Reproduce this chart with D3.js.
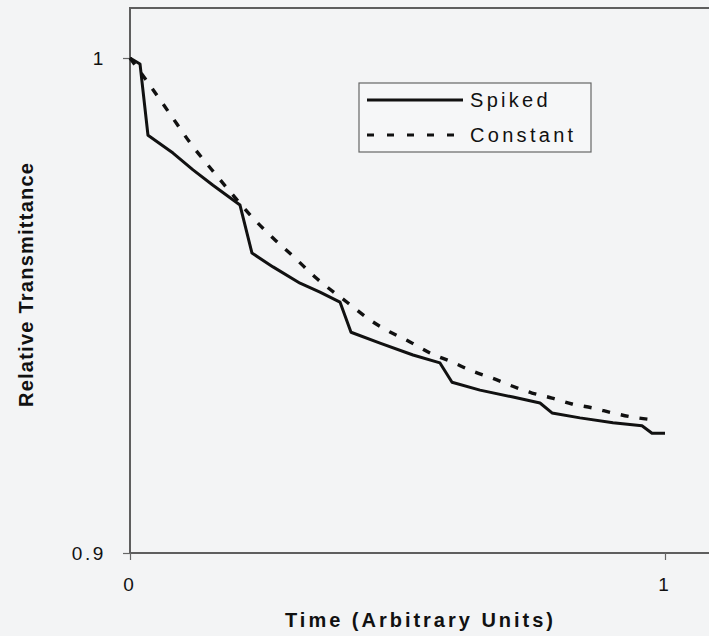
<!DOCTYPE html>
<html>
<head>
<meta charset="utf-8">
<script src="https://cdn.jsdelivr.net/npm/d3@7"></script>
<style>
  html, body { margin: 0; padding: 0; background: #f3f4f5; }
  svg { display: block; }
  text { font-family: "Liberation Sans", Arial, Helvetica, sans-serif; fill: #111; }
</style>
</head>
<body>
<svg id="chart" width="709" height="636"></svg>
<script>
// ---- data ----
const spikedX = [0, 0.0187, 0.0336, 0.0804, 0.1178, 0.1551, 0.2056, 0.2280, 0.2673, 0.3178, 0.3551, 0.3925,
                 0.4131, 0.4673, 0.5290, 0.5794, 0.6019, 0.6542, 0.7159, 0.7664, 0.7888, 0.8411, 0.9028, 0.9570, 0.9757, 1.0];
const spikedY = [1.0, 0.9988, 0.9844, 0.9808, 0.9774, 0.9743, 0.9703, 0.9606, 0.9578, 0.9545, 0.9527, 0.9507,
                 0.9446, 0.9424, 0.9400, 0.9384, 0.9345, 0.9329, 0.9315, 0.9303, 0.9283, 0.9273, 0.9263, 0.9257, 0.9242, 0.9242];
const constantX = [0, 0.0355, 0.0748, 0.1140, 0.1533, 0.1907, 0.2280, 0.2673, 0.3084, 0.3458, 0.4075, 0.4486, 0.4860,
                   0.5234, 0.5607, 0.6019, 0.6393, 0.6766, 0.7140, 0.7514, 0.7888, 0.8262, 0.8654, 0.9028, 0.9383, 0.9813];
const constantY = [1.0, 0.99475, 0.98869, 0.98263, 0.97737, 0.97253, 0.96788, 0.96364, 0.95960, 0.95576, 0.95051, 0.94707, 0.94465,
                   0.94263, 0.94040, 0.93859, 0.93677, 0.93535, 0.93374, 0.93232, 0.93131, 0.93010, 0.92929, 0.92828, 0.92747, 0.92687];
const seriesNames = ["Spiked", "Constant"];
const xTicks = [0, 1];
const yTicks = [0.9, 1];
const xTitle = "Time (Arbitrary Units)";
const yTitle = "Relative Transmittance";

// ---- layout ----
const svg = d3.select("#chart");
const x = d3.scaleLinear().domain([0, 1]).range([130, 665]);
const y = d3.scaleLinear().domain([0.9, 1.0]).range([553, 58]);
const frameTop = y(1.0101);

// frame (plot box, right side runs off the page)
svg.append("rect")
  .attr("x", x(0)).attr("y", frameTop)
  .attr("width", 720 - x(0)).attr("height", y(0.9) - frameTop)
  .attr("fill", "none").attr("stroke", "#5e5e5e").attr("stroke-width", 2);

// axes
const yAxis = d3.axisLeft(y).tickValues(yTicks).tickSize(7).tickPadding(17)
  .tickFormat(d => d === 1 ? "1" : d3.format(".1f")(d));
const gy = svg.append("g").attr("transform", `translate(${x(0)},0)`).call(yAxis);
gy.select(".domain").remove();
gy.selectAll("line").attr("stroke", "#666").attr("stroke-width", 1.2);
gy.selectAll("text").attr("font-size", 19).style("letter-spacing", "2.6px")
  .attr("font-family", "Liberation Sans, Arial, sans-serif").attr("fill", "#111");

const xAxis = d3.axisBottom(x).tickValues(xTicks).tickSize(7).tickPadding(18).tickFormat(d3.format("d"));
const gx = svg.append("g").attr("transform", `translate(0,${y(0.9)})`).call(xAxis);
gx.select(".domain").remove();
gx.selectAll("line").attr("stroke", "#666").attr("stroke-width", 1.2);
gx.selectAll("text").attr("font-size", 19).attr("dx", "-2")
  .attr("font-family", "Liberation Sans, Arial, sans-serif").attr("fill", "#111");

// lines
const line = d3.line().x(d => x(d[0])).y(d => y(d[1]));
const spiked = spikedX.map((v, i) => [v, spikedY[i]]);
const constant = constantX.map((v, i) => [v, constantY[i]]);

svg.append("path").datum(constant)
  .attr("d", line.curve(d3.curveMonotoneX))
  .attr("fill", "none").attr("stroke", "#111").attr("stroke-width", 3.4)
  .attr("stroke-dasharray", "8,11");

svg.append("path").datum(spiked)
  .attr("d", line.curve(d3.curveLinear))
  .attr("fill", "none").attr("stroke", "#111").attr("stroke-width", 3)
  .attr("stroke-linejoin", "round");

// legend
const lg = svg.append("g");
lg.append("rect").attr("x", 359).attr("y", 83).attr("width", 232).attr("height", 69)
  .attr("fill", "#f6f7f8").attr("stroke", "#666").attr("stroke-width", 1.2);
lg.append("line").attr("x1", 367).attr("x2", 463).attr("y1", 100).attr("y2", 100)
  .attr("stroke", "#111").attr("stroke-width", 3);
lg.append("line").attr("x1", 367).attr("x2", 456).attr("y1", 135).attr("y2", 135)
  .attr("stroke", "#111").attr("stroke-width", 3).attr("stroke-dasharray", "7,13");
lg.append("text").attr("x", 470).attr("y", 107).attr("font-size", 20)
  .style("letter-spacing", "3.3px").text(seriesNames[0]);
lg.append("text").attr("x", 470).attr("y", 142).attr("font-size", 20)
  .style("letter-spacing", "3.3px").text(seriesNames[1]);

// axis titles
svg.append("text").attr("x", 285).attr("y", 627).attr("font-size", 20).attr("font-weight", "bold")
  .attr("textLength", 268).attr("lengthAdjust", "spacing").text(xTitle);
svg.append("text").attr("transform", "translate(33,407) rotate(-90)")
  .attr("font-size", 20).attr("font-weight", "bold")
  .attr("textLength", 244).attr("lengthAdjust", "spacing").text(yTitle);
</script>
</body>
</html>
